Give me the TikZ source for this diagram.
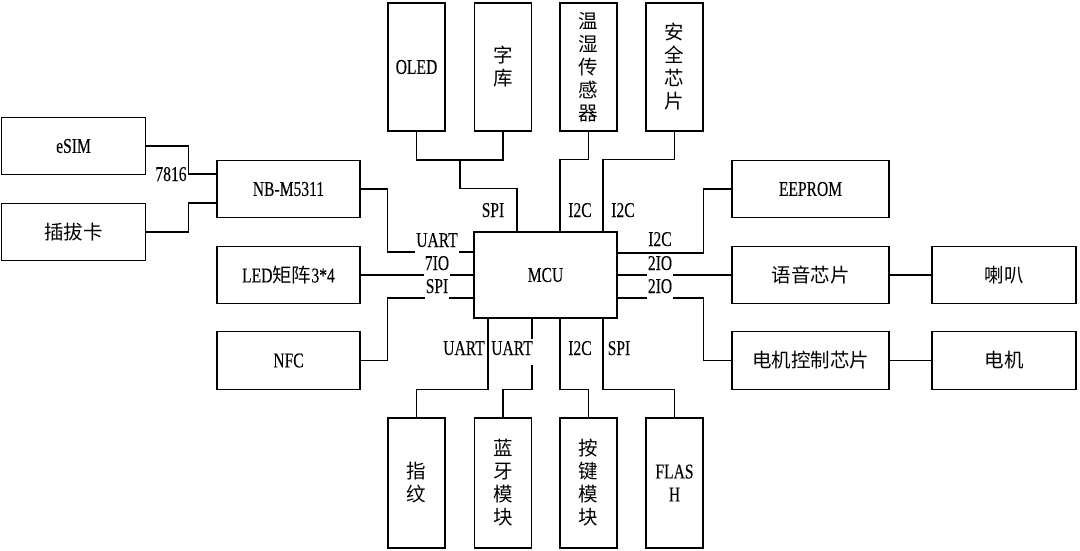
\documentclass[tikz,border=0pt]{standalone}
\usepackage{fontspec}
\setmainfont{Liberation Serif}[Scale=1.08, FakeStretch=0.74, FakeBold=0.15]
\newfontfamily\cjk{Noto Sans CJK SC}
\usetikzlibrary{positioning}

\begin{document}
\begin{tikzpicture}[x=1pt, y=-1pt,
  every node/.style={font=\fontsize{19.5}{23}\selectfont},
  zh/.style={font=\fontsize{19.5}{23}\selectfont\cjk},
  box/.style={draw, line width=1.3pt, inner sep=0pt, align=center},
  wbox/.style={box, minimum width=143pt, minimum height=57.5pt},
  tbox/.style={box, minimum width=57pt, minimum height=128pt},
  port/.style={inner sep=1pt, anchor=base},
  tag/.style={port, fill=white, text height=15pt, text depth=9pt},
  wire/.style={line width=1.3pt}
]
\useasboundingbox (0,0) rectangle (1080,551);

% --- Left: SIM and modules ---
\node[wbox, minimum width=144pt] (esim) at (73.5,146) {eSIM};
\node[wbox, minimum width=144pt, zh] (card) at (73.5,232) {插拔卡};
\node[wbox] (nb) at (288.5,189) {NB-M5311};
\node[wbox] (led) at (288.5,275) {LED{\cjk 矩阵}3*4};
\node[wbox] (nfc) at (288.5,360.5) {NFC};

% --- Centre ---
\node[wbox, minimum height=86pt] (mcu) at (545.5,275) {MCU};

% --- Top ---
\node[tbox] (oled) at (416.5,67) {OLED};
\node[tbox, zh] (lib) at (503,67) {字\\库};
\node[tbox, zh] (hum) at (588.5,67) {温\\湿\\传\\感\\器};
\node[tbox, zh] (safe) at (674.5,67) {安\\全\\芯\\片};

% --- Right ---
\node[wbox, minimum width=157pt] (eeprom) at (810.5,189) {EEPROM};
\node[wbox, minimum width=157pt, zh] (voice) at (810.5,275) {语音芯片};
\node[wbox, minimum width=157pt, zh] (motorc) at (810.5,360.5) {电机控制芯片};
\node[wbox, minimum width=144pt, zh] (spk) at (1004,275) {喇叭};
\node[wbox, minimum width=144pt, zh] (motor) at (1004,360.5) {电机};

% --- Bottom ---
\node[tbox, minimum height=130pt, zh] (finger) at (416.5,483) {指\\纹};
\node[tbox, minimum height=130pt, zh] (bt) at (503,483) {蓝\\牙\\模\\块};
\node[tbox, minimum height=130pt, zh] (key) at (588.5,483) {按\\键\\模\\块};
\node[tbox, minimum height=130pt] (flash) at (674.5,483) {FLAS\\H};

% Wires, left
\draw[wire] (esim.east) -| ++(42.5,28) -- ([yshift=15pt]nb.west);
\draw[wire] (card.east) -| ++(42.5,-29) -- ([yshift=-14pt]nb.west);
\draw[wire] ([yshift=23pt]mcu.west) -- ++(-86,0) |- (nb.east);
\draw[wire] (led.east) -- (mcu.west);
\draw[wire] ([yshift=-23pt]mcu.west) -- ++(-86,0) |- (nfc.east);

% Wires, top
\coordinate (spibus) at (460,160);
\draw[wire] (oled.south) |- (spibus) -| (lib.south);
\draw[wire] ([xshift=-28.5pt]mcu.north) -- ++(0,-43) -| (spibus);
\draw[wire] ([xshift=14.5pt]mcu.north) -- ++(0,-72) -| (hum.south);
\draw[wire] ([xshift=57.5pt]mcu.north) -- ++(0,-72) -| (safe.south);

% Wires, right
\draw[wire] ([yshift=22pt]mcu.east) -- ++(86,0) |- (eeprom.west);
\draw[wire] (mcu.east) -- (voice.west);
\draw[wire] ([yshift=-23pt]mcu.east) -- ++(86,0) |- (motorc.west);
\draw[wire] (voice) -- (spk);
\draw[wire] (motorc) -- (motor);

% Wires, bottom
\draw[wire] ([xshift=-57.5pt]mcu.south) -- ++(0,71) -| (finger.north);
\draw[wire] ([xshift=-13.5pt]mcu.south) -- ++(0,71) -| (bt.north);
\draw[wire] ([xshift=14.5pt]mcu.south) -- ++(0,71) -| (key.north);
\draw[wire] ([xshift=57.5pt]mcu.south) -- ++(0,71) -| (flash.north);

% Bus labels
\node[tag] (l7816) at (171,181) {7816};
\node[tag] (luart) at (437,247) {UART};
\node[tag] (lgpio) at (437,270) {7IO};
\node[tag] (lspi) at (437,293) {SPI};
\node[port] (tspi) at (493,217) {SPI};
\node[port] (ti2ca) at (580,217) {I2C};
\node[port] (ti2cb) at (623,217) {I2C};
\node[port] (ri2c) at (660,246) {I2C};
\node[tag] (rgpioa) at (660,270) {2IO};
\node[tag] (rgpiob) at (660,293) {2IO};
\node[port] (buarta) at (464,355) {UART};
\node[tag] (buartb) at (512,355) {UART};
\node[port] (bi2c) at (580,355) {I2C};
\node[port] (bspi) at (619,355) {SPI};

\end{tikzpicture}
\end{document}
